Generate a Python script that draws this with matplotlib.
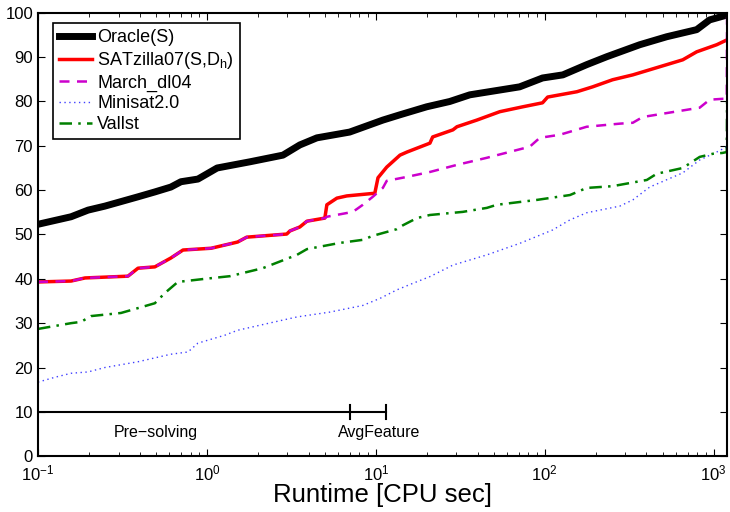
#!/usr/bin/env python3

import matplotlib
matplotlib.use("Agg")
import matplotlib.pyplot as plt

# runtime [CPU sec] / % solved
oracle_x = [0.1, 0.157, 0.198, 0.249, 0.391, 0.492, 0.612, 0.702, 0.885, 1.15, 1.8, 2.82,
            3.55, 4.48, 7.0, 11.0, 13.9, 20, 27.4, 36, 71, 97, 128, 177, 233, 365, 527, 793,
            946, 1200]
oracle_y = [52.3, 54, 55.5, 56.4, 58.5, 59.6, 60.7, 61.9, 62.5, 65, 66.4, 67.9,
            70.2, 71.8, 73.1, 75.8, 77, 78.8, 80, 81.5, 83.3, 85.3, 86, 88.3, 90.1, 92.8, 94.6, 96.2,
            98.4, 99.5]

satz_x = [0.1, 0.157, 0.19, 0.341, 0.391, 0.492, 0.612, 0.722, 1.06, 1.52, 1.72, 2.97, 3.10,
          3.55, 3.91, 4.99, 5.13, 5.88, 6.73, 9.86, 10.3, 11.6, 13.9, 15.3, 20.9, 21.7, 28.6,
          30.2, 39.6, 54.2, 74.1, 97, 104, 155, 192, 252, 332, 656, 793, 1042, 1200]
satz_y = [39.3, 39.5, 40.2, 40.6, 42.4, 42.7, 44.7, 46.5, 46.9, 48.3, 49.4, 50.1, 50.8,
          51.7, 53.0, 53.7, 56.7, 58.2, 58.7, 59.3, 62.8, 65.2, 67.9, 68.6, 70.6, 72.0, 73.6,
          74.3, 75.8, 77.7, 78.8, 79.7, 81.0, 82.2, 83.3, 84.9, 86.0, 89.4, 91.2, 92.8, 93.9]

march_x = [0.1, 0.157, 0.19, 0.341, 0.391, 0.492, 0.612, 0.722, 1.06, 1.52, 1.72, 2.97, 3.10,
           3.55, 3.91, 4.99, 5.13, 7.31, 8.38, 9.59, 11.0, 11.6, 15.3, 20.9, 30.2, 45.4, 81.5,
           93.4, 123, 177, 278, 332, 380, 826, 946, 1130, 1195, 1200]
march_y = [39.3, 39.5, 40.2, 40.6, 42.4, 42.7, 44.7, 46.5, 46.9, 48.3, 49.4, 50.1, 50.8,
           51.7, 53.0, 53.7, 54.0, 55.1, 56.7, 58.5, 60.5, 62.1, 63.0, 64.1, 65.7, 67.3, 69.8,
           71.8, 72.5, 74.3, 75.0, 75.2, 76.5, 78.6, 80.4, 80.6, 80.6, 99.0]

minisat_x = [0.1, 0.126, 0.157, 0.198, 0.249, 0.391, 0.612, 0.773, 0.885, 1.28, 1.52, 2.46,
             3.41, 5.35, 8.38, 10.6, 13.3, 16.6, 20.9, 28.6, 45.4, 71.1, 111, 141, 177, 278,
             332, 418, 656, 826, 1042, 1200]
minisat_y = [16.7, 17.8, 18.7, 19.0, 20.0, 21.3, 23.0, 23.5, 25.5, 27.3, 28.4, 30.2,
             31.4, 32.5, 34.0, 35.6, 37.5, 39.0, 40.5, 43.1, 45.4, 48.0, 51.0, 53.3, 54.9, 56.4,
             57.8, 60.7, 63.9, 66.8, 68.6, 69.8]

vallst_x = [0.1, 0.157, 0.18, 0.206, 0.31, 0.391, 0.492, 0.564, 0.673, 0.973, 1.37, 2.14,
            3.41, 3.91, 6.12, 8.38, 9.59, 13.3, 14.5, 17.5, 20.9, 32.7, 45.4, 52.0, 89.8, 141,
            177, 252, 402, 460, 656, 826, 986, 1130, 1195, 1200]
vallst_y = [28.7, 30.0, 30.3, 31.6, 32.3, 33.4, 34.5, 36.8, 39.3, 40.0, 40.6, 42.4,
            45.4, 46.7, 48.1, 48.8, 49.7, 51.2, 52.1, 53.7, 54.4, 55.1, 56.0, 56.7, 57.8, 58.9,
            60.5, 60.9, 62.3, 63.7, 65.0, 67.5, 68.2, 68.4, 68.6, 80.0]

presolve_end = 7.0
feature_end = 11.5
marker_level = 10

plt.rcParams["font.family"] = ["Liberation Sans", "DejaVu Sans"]
plt.rcParams["mathtext.fontset"] = "custom"
plt.rcParams["mathtext.rm"] = "Liberation Sans"
plt.rcParams["mathtext.it"] = "Liberation Sans"

fig = plt.figure(figsize=(7.3, 5.12), dpi=100)
ax = fig.add_axes([0.052, 0.109, 0.944, 0.866])

ax.plot(oracle_x, oracle_y, color="black", lw=5, label="Oracle(S)")
ax.plot(satz_x, satz_y, color="#ff0000", lw=2.5, label=r"SATzilla07(S,D$_\mathrm{h}$)")
ax.plot(march_x, march_y, color="#cc00cc", lw=1.8, ls=(0, (4, 3)), label="March_dl04")
ax.plot(minisat_x, minisat_y, color="#4040ff", lw=1.0, ls=(0, (1, 2.5)), label="Minisat2.0")
ax.plot(vallst_x, vallst_y, color="#008000", lw=1.8, ls=(0, (5, 2.5, 1, 2.5)), label="Vallst")

# pre-solving / feature computation markers
ax.plot([0.1, feature_end], [marker_level, marker_level], color="black", lw=1.5)
for xv in (presolve_end, feature_end):
    ax.plot([xv, xv], [marker_level - 1.6, marker_level + 1.6], color="black", lw=1.5)
ax.text(0.5, 5.4, "Pre\u2212solving", ha="center", va="center", fontsize=11.5)
ax.text(10.5, 5.4, "AvgFeature", ha="center", va="center", fontsize=11.5)

ax.set_xscale("log")
ax.set_xlim(0.1, 1200)
ax.set_ylim(0, 100)
ax.set_yticks(range(0, 101, 10))
ax.tick_params(which="both", direction="in", top=True, right=True, labelsize=12)
ax.tick_params(which="major", length=5)
ax.tick_params(which="minor", length=3)
ax.tick_params(axis="x", pad=5)
for s in ax.spines.values():
    s.set_linewidth(1.5)
ax.set_xlabel("Runtime [CPU sec]", fontsize=18.5, labelpad=0)

leg = ax.legend(loc="upper left", fontsize=13, handlelength=1.8, handletextpad=0.3,
                borderpad=0.35, labelspacing=0.2, fancybox=False, framealpha=1,
                borderaxespad=0, bbox_to_anchor=(0.022, 0.977))
leg.get_frame().set_edgecolor("black")
leg.get_frame().set_linewidth(1.2)

fig.savefig("out.png", dpi=100)
